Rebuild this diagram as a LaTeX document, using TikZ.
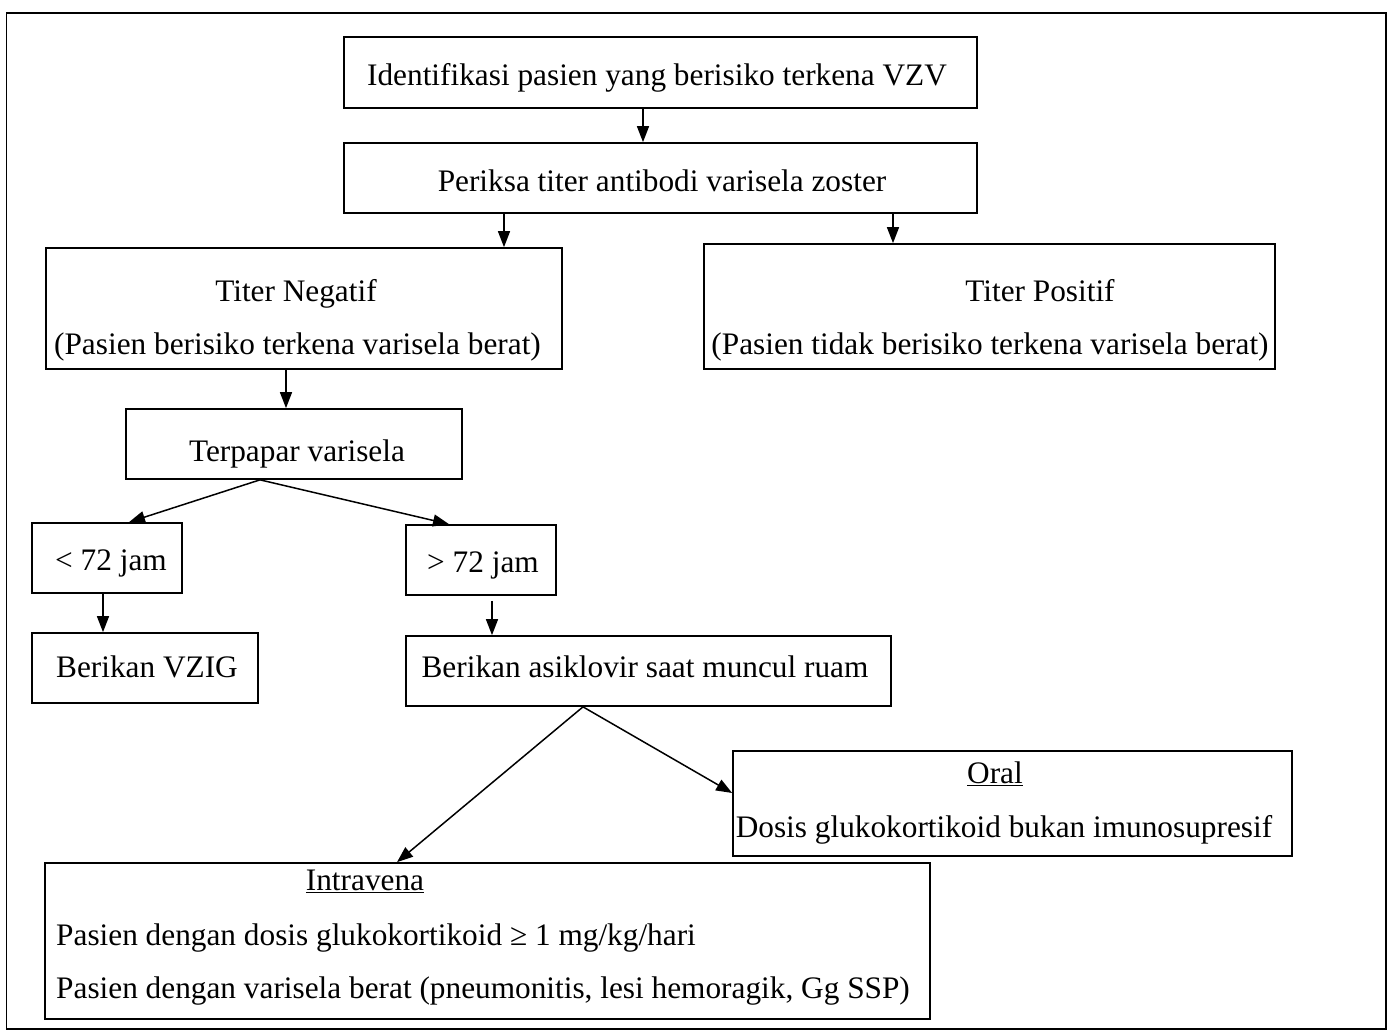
\documentclass[tikz,border=0pt]{standalone}
\usepackage{fontspec}
\setmainfont{Liberation Serif}
\usetikzlibrary{arrows.meta}
\begin{document}
\begin{tikzpicture}[x=1pt,y=-1pt,
  box/.style={draw, line width=1.7pt, inner sep=0pt, rectangle},
  txt/.style={inner sep=0pt, font=\fontsize{31.3}{37}\selectfont, anchor=base},
  txtl/.style={txt, anchor=base west},
  arr/.style={line width=1.5pt, -{Triangle[length=16pt,width=12pt]}}]
\useasboundingbox (0,0) rectangle (1393,1030);
\node[draw, line width=1.3pt, minimum width=1379.5pt, minimum height=1016pt, inner sep=0pt] (frame) at (696.25,521) {};
% boxes
\node[box, minimum width=633pt, minimum height=71pt] (b1) at (660.5,72.5) {};
\node[box, minimum width=633pt, minimum height=70pt] (b2) at (660.5,178) {};
\node[box, minimum width=516pt, minimum height=121pt] (b3) at (304,308.5) {};
\node[box, minimum width=571pt, minimum height=125pt] (b4) at (989.5,306.5) {};
\node[box, minimum width=336pt, minimum height=70pt] (b5) at (294,444) {};
\node[box, minimum width=150pt, minimum height=70pt] (b6) at (107,558) {};
\node[box, minimum width=150pt, minimum height=70pt] (b7) at (481,560) {};
\node[box, minimum width=226pt, minimum height=70pt] (b8) at (145,668) {};
\node[box, minimum width=485pt, minimum height=70pt] (b9) at (648.5,671) {};
\node[box, minimum width=559pt, minimum height=105pt] (b10) at (1012.5,803.5) {};
\node[box, minimum width=885pt, minimum height=156pt] (b11) at (487.5,941) {};
% texts
\node[txt] (t1) at (657,86) {Identifikasi pasien yang berisiko terkena VZV};
\node[txt] (t2) at (662,192) {Periksa titer antibodi varisela zoster};
\node[txt] (t3a) at (296,301) {Titer Negatif};
\node[txt] (t3b) at (297.5,354) {(Pasien berisiko terkena varisela berat)};
\node[txt] (t4a) at (1040,301) {Titer Positif};
\node[txt] (t4b) at (990,354) {(Pasien tidak berisiko terkena varisela berat)};
\node[txt] (t5) at (297,461) {Terpapar varisela};
\node[txt] (t6) at (111,570) {< 72 jam};
\node[txt] (t7) at (483,572) {> 72 jam};
\node[txt] (t8) at (147,677) {Berikan VZIG};
\node[txt] (t9) at (645,677) {Berikan asiklovir saat muncul ruam};
\node[txt] (t10a) at (995,783) {\underline{Oral}};
\node[txt] (t10b) at (1004,837) {Dosis glukokortikoid bukan imunosupresif};
\node[txt] (t11a) at (365,890) {\underline{Intravena}};
\node[txtl] (t11b) at (56,945) {Pasien dengan dosis glukokortikoid ≥ 1 mg/kg/hari};
\node[txtl] (t11c) at (56,998) {Pasien dengan varisela berat (pneumonitis, lesi hemoragik, Gg SSP)};
% connectors
\coordinate (s12) at ([xshift=-17.5pt]b1.south);
\draw[arr] (s12) -- (s12 |- b2.north);
\coordinate (s23) at ([xshift=-156.5pt]b2.south);
\draw[arr] (s23) -- (s23 |- b3.north);
\coordinate (s24) at ([xshift=232.5pt]b2.south);
\draw[arr] (s24) -- (s24 |- b4.north);
\coordinate (s35) at ([xshift=-18pt]b3.south);
\draw[arr] (s35) -- (s35 |- b5.north);
\coordinate (s5) at ([xshift=-34pt]b5.south);
\draw[arr] (s5) -- ([xshift=22pt]b6.north);
\draw[arr] (s5) -- ([xshift=-32pt]b7.north);
\coordinate (s68) at ([xshift=-4pt]b6.south);
\draw[arr] (s68) -- (s68 |- b8.north);
\coordinate (s79) at ([xshift=11pt,yshift=-5pt]b7.south);
\draw[arr] (s79) -- (s79 |- b9.north);
\coordinate (s9) at ([xshift=-65.5pt]b9.south);
\draw[arr] (s9) -- ([xshift=-90.5pt]b11.north);
\draw[arr] (s9) -- ([yshift=10.5pt]b10.west);
\end{tikzpicture}
\end{document}
